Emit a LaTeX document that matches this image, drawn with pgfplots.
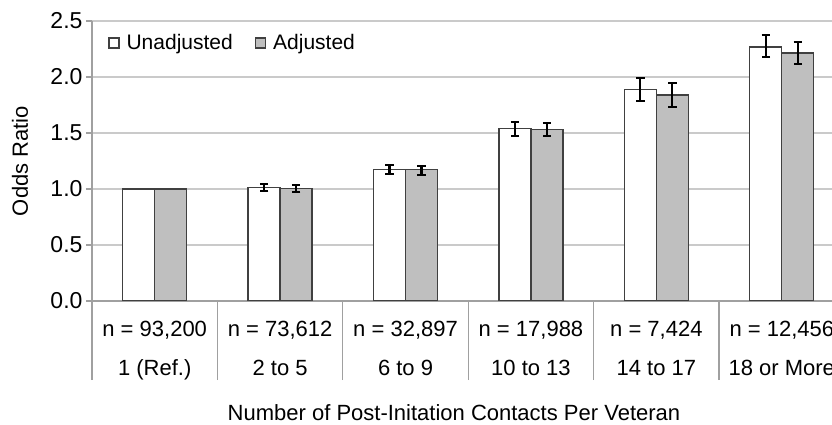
\documentclass[border=0pt]{standalone}
\usepackage{pgfplots}
\pgfplotsset{compat=1.18}
\usepackage{pgfplotstable}
\usepackage{fontspec}
\setmainfont{Liberation Sans}

\definecolor{barfill}{HTML}{BFBFBF}
\definecolor{baredge}{HTML}{404040}
\definecolor{axisgray}{HTML}{A0A0A0}
\definecolor{gridgray}{HTML}{CACACA}

% category 0 is the reference: no error bars
\pgfplotstableread{
x y ep em
1 1.015 0.030 0.030
2 1.172 0.042 0.038
3 1.542 0.059 0.066
4 1.887 0.104 0.099
5 2.268 0.107 0.089
}\unadj

\pgfplotstableread{
x y ep em
1 1.003 0.030 0.027
2 1.172 0.036 0.048
3 1.530 0.062 0.060
4 1.839 0.104 0.104
5 2.214 0.099 0.095
}\adj

\begin{document}
\begin{tikzpicture}
\begin{axis}[
    at={(92pt,124pt)}, anchor=south west,
    scale only axis,
    width=752.5pt, height=280pt,
    xmin=-0.5, xmax=5.5,
    ymin=0, ymax=2.5,
    ybar, bar width=32pt,
    axis x line*=bottom, axis y line*=left,
    axis line style={draw=axisgray, line width=1.3pt},
    ymajorgrids=true,
    grid style={draw=gridgray, line width=1.3pt},
    ytick={0,0.5,1,1.5,2,2.5},
    yticklabel style={font=\fontsize{23}{27}\selectfont,
        /pgf/number format/.cd, fixed, fixed zerofill, precision=1, assume math mode=true},
    y tick style={draw=axisgray, line width=1.3pt},
    major tick length=6pt,
    tick align=outside,
    xtick={0,1,2,3,4,5},
    x tick style={draw=none},
    xticklabels={{n = 93,200\\1 (Ref.)},{n = 73,612\\2 to 5},{n = 32,897\\6 to 9},
                 {n = 17,988\\10 to 13},{n = 7,424\\14 to 17},{n = 12,456\\18 or More}},
    xticklabel style={font=\fontsize{22}{39}\selectfont, align=center, anchor=north, yshift=-11pt},
    extra x ticks={-0.5,0.5,1.5,2.5,3.5,4.5,5.5},
    extra x tick labels={,,,,,,},
    extra x tick style={major tick length=79pt, tick align=outside,
        x tick style={draw=axisgray, line width=1.3pt}},
    label style={font=\fontsize{22}{26}\selectfont},
    ylabel={Odds Ratio},
    ylabel style={at={(axis description cs:0,0.5)}, anchor=center, yshift=72pt},
    xlabel={Number of Post-Initation Contacts Per Veteran},
    xlabel style={at={(axis description cs:0.481,0)}, anchor=base, yshift=-120pt},
    legend columns=2,
    legend style={draw=none, fill=none, inner sep=0pt,
        at={(axis description cs:0.0213,0.921)}, anchor=west,
        font=\fontsize{21}{25}\selectfont,
        /tikz/every even column/.append style={column sep=20pt}},
    legend cell align=left,
    legend image code/.code={\draw[#1, line width=1.4pt] (0pt,-5pt) rectangle (10pt,5pt); \path (15pt,0pt);},
    every axis plot/.append style={draw=baredge, line width=1.3pt},
    error bars/error bar style={draw=black, line width=2.2pt},
    error bars/error mark options={draw=black, line width=2.2pt, mark size=4.2pt, rotate=90},
]
    % reference category, no interval
    \addplot[forget plot, fill=white, bar shift=-16pt] coordinates {(0,1.0)};
    \addplot[forget plot, fill=barfill, bar shift=16pt] coordinates {(0,1.0)};

    \addplot[fill=white, bar shift=-16pt,
        error bars/.cd, y dir=both, y explicit]
        table[x=x, y=y, y error plus=ep, y error minus=em] {\unadj};
    \addlegendentry{Unadjusted}

    \addplot[fill=barfill, bar shift=16pt,
        error bars/.cd, y dir=both, y explicit]
        table[x=x, y=y, y error plus=ep, y error minus=em] {\adj};
    \addlegendentry{Adjusted}
\end{axis}
\pgfresetboundingbox
\path[use as bounding box] (0,0) rectangle (832pt,425pt);
\end{tikzpicture}
\end{document}
